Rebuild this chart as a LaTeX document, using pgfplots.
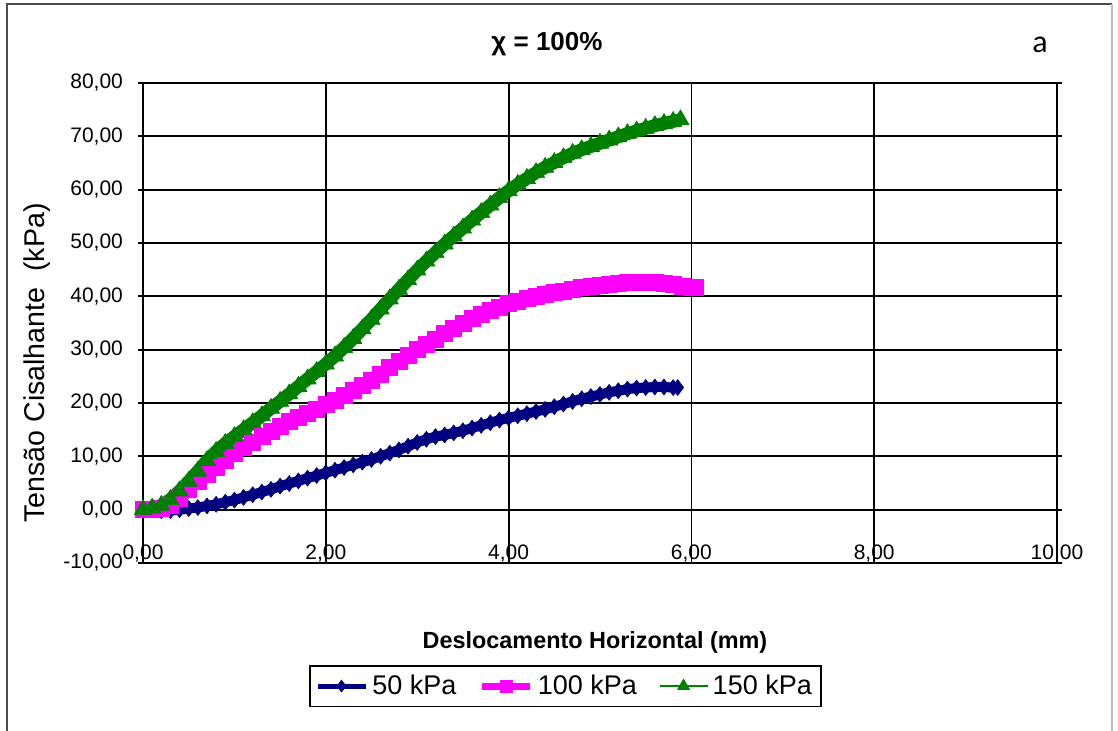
\documentclass[border=0pt]{standalone}
\usepackage{pgfplots}
\pgfplotsset{compat=1.18}
\usepackage{pgfplotstable}
\usepackage{fontspec}
\setmainfont{Liberation Sans}
\newfontfamily\calib{Carlito}
\definecolor{cnavy}{RGB}{0,0,128}
\definecolor{cmag}{RGB}{255,0,255}
\definecolor{cgreen}{RGB}{0,128,0}

\pgfplotstableread{
x y
0.0 0.0
0.1 0.0
0.2 -0.2
0.3 -0.2
0.4 0.0
0.5 0.2
0.6 0.4
0.7 0.7
0.8 1.0
0.9 1.4
1.0 1.8
1.1 2.3
1.2 2.8
1.3 3.3
1.4 3.8
1.5 4.4
1.6 4.9
1.7 5.4
1.8 5.9
1.9 6.4
2.0 6.9
2.1 7.4
2.2 7.9
2.3 8.4
2.4 8.9
2.5 9.4
2.6 10.0
2.7 10.6
2.8 11.2
2.9 11.9
3.0 12.6
3.1 13.2
3.2 13.7
3.3 14.0
3.4 14.4
3.5 14.8
3.6 15.3
3.7 15.8
3.8 16.3
3.9 16.8
4.0 17.2
4.1 17.6
4.2 18.0
4.3 18.4
4.4 18.8
4.5 19.3
4.6 19.8
4.7 20.3
4.8 20.8
4.9 21.2
5.0 21.6
5.1 22.0
5.2 22.3
5.3 22.6
5.4 22.8
5.5 22.9
5.6 23.0
5.7 23.0
5.8 22.9
5.85 22.9
}\tabA

\pgfplotstableread{
x y
0.0 0.0
0.1 0.0
0.2 0.2
0.3 0.8
0.4 2.2
0.5 3.8
0.6 5.3
0.7 6.7
0.8 8.0
0.9 9.3
1.0 10.5
1.1 11.6
1.2 12.7
1.3 13.7
1.4 14.7
1.5 15.6
1.6 16.5
1.7 17.3
1.8 18.1
1.9 18.9
2.0 19.7
2.1 20.5
2.2 21.4
2.3 22.3
2.4 23.3
2.5 24.3
2.6 25.4
2.7 26.6
2.8 27.8
2.9 28.9
3.0 30.0
3.1 31.0
3.2 32.0
3.3 33.0
3.4 34.0
3.5 35.0
3.6 35.8
3.7 36.6
3.8 37.3
3.9 38.0
4.0 38.6
4.1 39.1
4.2 39.6
4.3 40.0
4.4 40.4
4.5 40.7
4.6 41.0
4.7 41.3
4.8 41.6
4.9 41.9
5.0 42.1
5.1 42.3
5.2 42.5
5.3 42.6
5.4 42.7
5.5 42.7
5.6 42.6
5.7 42.4
5.8 42.2
5.9 41.9
6.0 41.7
6.04 41.6
}\tabB

\pgfplotstableread{
x y
0.0 0.0
0.1 0.3
0.2 0.8
0.3 1.9
0.4 3.5
0.5 5.3
0.6 7.2
0.7 9.2
0.8 10.9
0.9 12.4
1.0 13.7
1.1 15.0
1.2 16.3
1.3 17.6
1.4 19.0
1.5 20.3
1.6 21.7
1.7 23.1
1.8 24.5
1.9 25.9
2.0 27.3
2.1 28.8
2.2 30.4
2.3 32.1
2.4 33.9
2.5 35.7
2.6 37.6
2.7 39.5
2.8 41.3
2.9 43.1
3.0 44.9
3.1 46.6
3.2 48.2
3.3 49.8
3.4 51.3
3.5 52.8
3.6 54.3
3.7 55.7
3.8 57.1
3.9 58.5
4.0 59.8
4.1 61.0
4.2 62.1
4.3 63.2
4.4 64.2
4.5 65.1
4.6 66.0
4.7 66.8
4.8 67.5
4.9 68.1
5.0 68.7
5.1 69.3
5.2 69.9
5.3 70.5
5.4 71.0
5.5 71.5
5.6 72.0
5.7 72.4
5.8 72.8
5.88 73.1
}\tabC

\begin{document}
\begin{tikzpicture}
\begin{axis}[
  at={(71.5pt,84pt)}, anchor=south west,
  width=457pt, height=240pt, scale only axis,
  xmin=0, xmax=10, ymin=-10, ymax=80,
  xtick={0,2,...,10}, ytick={-10,0,...,80},
  grid=major,
  major grid style={black, line width=0.9pt},
  axis line style={black, line width=0.9pt},
  tick align=outside,
  x tick style={draw=none},
  y tick style={black, line width=0.9pt},
  major tick length=2.5pt,
  /pgf/number format/.cd, fixed, fixed zerofill, precision=2, use comma, assume math mode=true,
  /pgfplots/.cd,
  tick label style={font=\fontsize{10.5}{12}\selectfont},
  xticklabel style={yshift=15pt},
  yticklabel style={xshift=-4pt},
  clip=false,
  title={\textbf{χ = 100\%}},
  title style={at={(axis description cs:0.442,1.056)}, anchor=center, font=\fontsize{13}{15}\selectfont},
  xlabel={\textbf{Deslocamento Horizontal (mm)}},
  xlabel style={at={(axis description cs:0.4945,-0.1646)}, anchor=center, font=\fontsize{11.7}{14}\selectfont},
  ylabel={Tensão Cisalhante \ (kPa)},
  ylabel style={at={(axis description cs:-0.1154,0.4167)}, anchor=center, font=\fontsize{14.3}{16}\selectfont},
  legend columns=3,
  legend style={at={(axis description cs:0.4622,-0.2563)}, anchor=center, draw=black, line width=0.8pt,
    font=\fontsize{13.5}{15}\selectfont, inner sep=2.5pt,
    /tikz/every even column/.append style={column sep=9pt}},
  legend image code/.code={\draw[mark repeat=2,mark phase=2,#1] plot coordinates {(0cm,0cm) (0.42cm,0cm) (0.85cm,0cm)};},
]
\addplot[cnavy, line width=5pt, line join=round, mark=diamond*, mark size=4pt, mark options={solid, line width=0.3pt},
  legend image post style={line width=2.5pt, mark size=3pt}] table[x=x,y=y] {\tabA};
\addlegendentry{50 kPa}
\addplot[cmag, line width=6.5pt, line join=round, mark=square*, mark size=4pt, mark options={solid, line width=0.3pt},
  legend image post style={line width=3.5pt, mark size=3pt}] table[x=x,y=y] {\tabB};
\addlegendentry{100 kPa}
\addplot[cgreen, line width=6.5pt, line join=round, mark=triangle*, mark size=5pt, mark options={solid, line width=0.3pt},
  legend image post style={line width=0.7pt, mark size=3.5pt}] table[x=x,y=y] {\tabC};
\addlegendentry{150 kPa}
\end{axis}
\node[font=\calib\fontsize{16}{18}\selectfont] at (520pt,343pt) {a};
\draw[gray!60!black, line width=1pt] (3.5pt,-2pt) -- (3.5pt,363.5pt) -- (556pt,363.5pt);
\draw[gray!50, line width=0.6pt] (556pt,363.5pt) -- (556pt,-2pt);
\pgfresetboundingbox
\useasboundingbox (0,0) rectangle (559pt,365.5pt);
\end{tikzpicture}
\end{document}
